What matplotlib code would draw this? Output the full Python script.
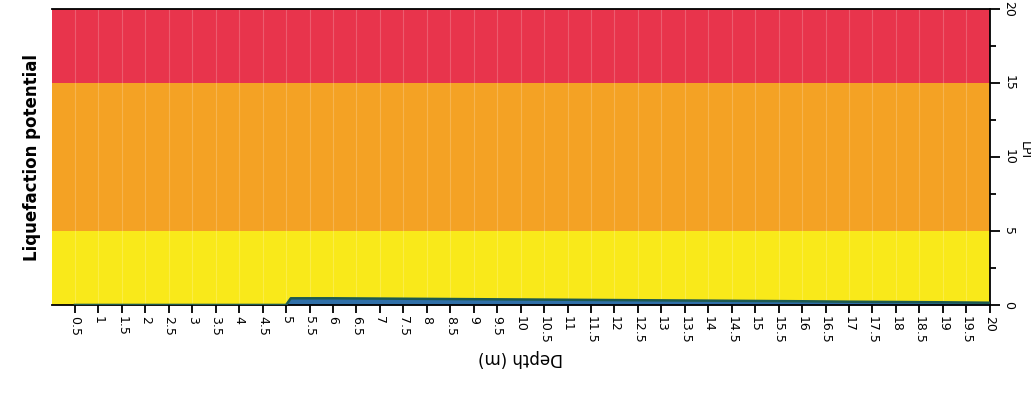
import matplotlib.pyplot as plt
import numpy as np

# LPI bands (lower, upper, colour)
band_low = [0, 5, 15]
band_high = [5, 15, 20]
band_colors = ['#f9e91a', '#f4a224', '#e8344c']

# Depth ticks (m)
depth_ticks = [0.5, 1, 1.5, 2, 2.5, 3, 3.5, 4, 4.5, 5, 5.5, 6, 6.5, 7, 7.5, 8,
               8.5, 9, 9.5, 10, 10.5, 11, 11.5, 12, 12.5, 13, 13.5, 14, 14.5,
               15, 15.5, 16, 16.5, 17, 17.5, 18, 18.5, 19, 19.5, 20]
depth_labels = ['0.5', '1', '1.5', '2', '2.5', '3', '3.5', '4', '4.5', '5',
                '5.5', '6', '6.5', '7', '7.5', '8', '8.5', '9', '9.5', '10',
                '10.5', '11', '11.5', '12', '12.5', '13', '13.5', '14', '14.5',
                '15', '15.5', '16', '16.5', '17', '17.5', '18', '18.5', '19',
                '19.5', '20']

# cumulative LPI vs depth
lpi_depth = [0.5, 4.5, 5.0, 5.1, 6, 7, 8, 9, 10, 11, 12, 13, 14, 15, 16, 17,
             18, 19, 20]
lpi_value = [0, 0, 0, 0.45, 0.45, 0.43, 0.41, 0.39, 0.37, 0.35, 0.33, 0.31,
             0.29, 0.27, 0.25, 0.22, 0.2, 0.18, 0.15]

fig = plt.figure(figsize=(10.31, 3.94), dpi=100)
ax = fig.add_axes([0.05, 0.226, 0.91, 0.752])

for lo, hi, c in zip(band_low, band_high, band_colors):
    ax.axhspan(lo, hi, color=c, zorder=0, lw=0)

# faint scan stripes at each depth tick
for d in depth_ticks:
    ax.axvline(d, color='white', alpha=0.2, lw=0.8, zorder=1)

ax.fill_between(lpi_depth, 0, lpi_value, color='#2f6fa8', lw=0, zorder=2)
ax.plot(lpi_depth, lpi_value, color='#1d5a50', lw=1.8, zorder=3)

ax.set_xlim(0, 20)
ax.set_ylim(0, 20)

ax.set_xticks(depth_ticks)
ax.set_xticklabels(depth_labels, rotation=-90, fontsize=9)
ax.tick_params(axis='x', direction='out', length=6, width=1.3, pad=2)

ax.yaxis.tick_right()
ax.set_yticks([0, 5, 10, 15, 20])
ax.set_yticks([2.5, 7.5, 12.5, 17.5], minor=True)
ax.set_yticklabels(['0', '5', '10', '15', '20'], rotation=-90, va='center',
                   fontsize=9)
ax.tick_params(axis='y', which='major', direction='out', length=7, width=1.3,
               pad=2)
ax.tick_params(axis='y', which='minor', direction='out', length=4, width=1.3)

ax.spines['left'].set_visible(False)
for s in ['bottom', 'right', 'top']:
    ax.spines[s].set_linewidth(1.3)

ax.set_xlabel('Depth (m)', rotation=180, fontsize=12, labelpad=4)

# axis title for LPI sits right at the page edge
fig.text(0.9935, 0.62, 'LPI', rotation=-90, fontsize=9,
         ha='center', va='center')

fig.text(0.031, 0.6, 'Liquefaction potential', rotation=90, fontsize=12,
         fontweight='bold', ha='center', va='center')

fig.savefig('out.png', dpi=100)
